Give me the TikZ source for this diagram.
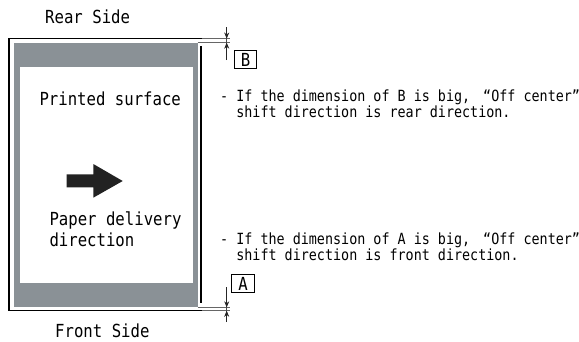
\documentclass[tikz,border=0pt]{standalone}
\usepackage{fontspec}
\usetikzlibrary{arrows.meta}
\newfontfamily\monofnt[FakeStretch=0.87]{DejaVu Sans Mono}
\definecolor{sheetgray}{RGB}{138,145,150}
\definecolor{arrowblack}{RGB}{34,34,34}
\begin{document}
\begin{tikzpicture}[x=1pt,y=-1pt,
  biglabel/.style={font=\monofnt\fontsize{18}{21}\selectfont,inner sep=0pt,anchor=base west},
  note/.style={font=\monofnt\fontsize{15.4}{16.5}\selectfont,inner sep=0pt,anchor=base west},
  dimbox/.style={draw,line width=0.9pt,font=\monofnt\fontsize{18}{20}\selectfont,minimum width=22.5pt,minimum height=18.5pt,inner sep=0pt},
  frame/.style={line width=1.3pt,black},
  extline/.style={line width=0.7pt,black!60},
  dimline/.style={line width=0.7pt,black!70},
  dimtip/.style={-{Stealth[length=6pt,width=5pt]},line width=0.7pt,black!85}]
\useasboundingbox (0,0) rectangle (579,341);
% sheet
\fill[sheetgray] (13.5,42.7) rectangle (197.5,307.3);
\fill[white] (19.5,66.7) rectangle (193,283);
\draw[frame] (201.5,38.5) -- (9,38.5) -- (9,310.8) -- (201.5,310.8);
\draw[frame] (201,46) -- (201,303);
% coordinates for dimensions
\coordinate (tA) at (226.7,38.5);
\coordinate (tB) at (226.7,42.7);
\coordinate (tTop) at (226.7,27);
\coordinate (tBot) at (226.7,60);
\coordinate (bA) at (226.7,307.3);
\coordinate (bB) at (226.7,310.8);
\coordinate (bTop) at (226.7,287);
\coordinate (bBot) at (226.7,322);
% extension lines
\draw[extline] (201.5,38.5) -- (230,38.5);
\draw[extline] (197.5,42.7) -- (230,42.7);
\draw[extline] (197.5,307.3) -- (230,307.3);
\draw[extline] (201.5,310.8) -- (230,310.8);
% dimension arrows
\draw[dimline] (tTop) -- (tBot);
\draw[dimtip] (tTop) -- (tA);
\draw[dimtip] (tBot) -- (tB);
\draw[dimline] (bTop) -- (bBot);
\draw[dimtip] (bTop) -- (bA);
\draw[dimtip] (bBot) -- (bB);
% boxes
\node[dimbox] (boxB) at (245.5,59.5) {B};
\node[dimbox] (boxA) at (243,283.5) {A};
% labels
\node[biglabel] (rear) at (45,23.3) {Rear Side};
\node[biglabel] (front) at (55,337.5) {Front Side};
\node[biglabel] (printed) at (39.3,105) {Printed surface};
\node[biglabel] (paper) at (49.3,225) {Paper delivery};
\node[biglabel] (dir) at (49.3,246.7) {direction};
% big arrow
\fill[arrowblack] (66.7,174.3) -- (93.3,174.3) -- (93.3,164) -- (122.7,181) -- (93.3,197.7) -- (93.3,187.3) -- (66.7,187.3) -- cycle;
% notes
\node[note] (n1) at (220,101) {- If the dimension of B is big,\hspace{13pt}“Off center”};
\node[note] (n2) at (220,117.3) {\ \ shift direction is rear direction.};
\node[note] (n3) at (220,244) {- If the dimension of A is big,\hspace{13pt}“Off center”};
\node[note] (n4) at (220,260.3) {\ \ shift direction is front direction.};
\end{tikzpicture}
\end{document}
